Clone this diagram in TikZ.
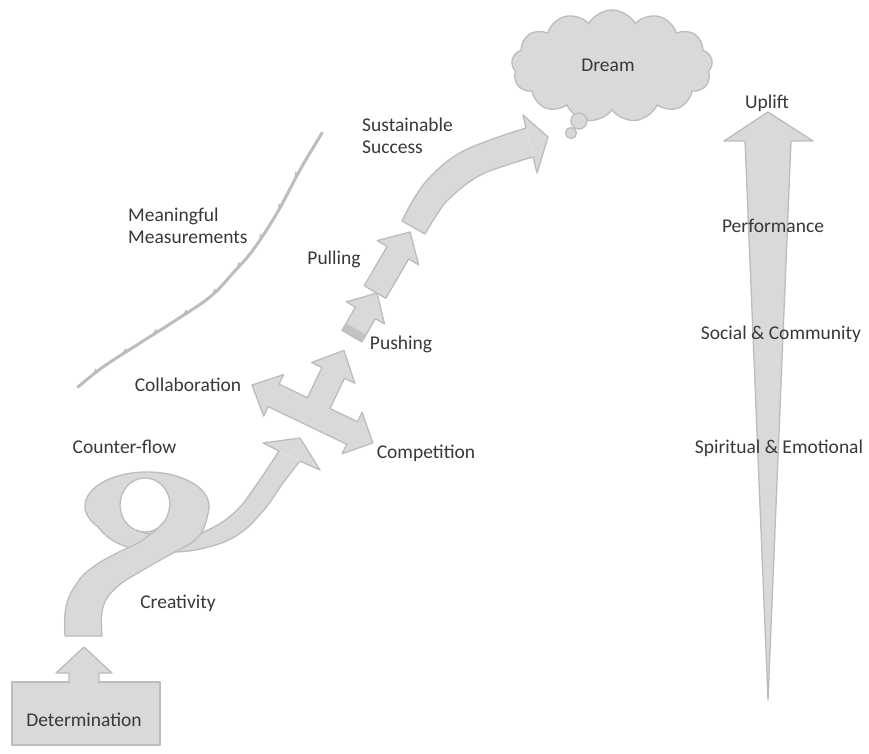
\documentclass[tikz,border=0pt]{standalone}
\usepackage{fontspec}
\setmainfont{Carlito}
\usetikzlibrary{calc,shapes.symbols,decorations.markings}
\definecolor{fillc}{HTML}{D9D9D9}
\definecolor{edgec}{HTML}{BCBCBC}
\definecolor{textc}{HTML}{383838}
\definecolor{linec}{HTML}{BDBDBD}
\newcommand{\arrowpts}[5]{%
  \path ($(#2)!#5!(#1)$) coordinate (ba-h);
  \path ($(#1)!#3!90:(#2)$) coordinate (ba-t1)
        ($(ba-h)!#3!90:(#2)$) coordinate (ba-h1)
        ($(ba-h)!#4!90:(#2)$) coordinate (ba-w1)
        ($(ba-h)!#4!-90:(#2)$) coordinate (ba-w2)
        ($(ba-h)!#3!-90:(#2)$) coordinate (ba-h2)
        ($(#1)!#3!-90:(#2)$) coordinate (ba-t2);
}
\begin{document}
\begin{tikzpicture}[x=1pt,y=-1pt,
  lbl/.style={text=textc, font=\fontsize{19.5}{22}\selectfont, inner sep=0pt, text height=12.5pt, text depth=0pt},
  mlbl/.style={text=textc, font=\fontsize{19.5}{22}\selectfont, inner sep=0pt, align=left, anchor=base west},
  shapefill/.style={fill=fillc},
  shapeline/.style={draw=edgec, line width=1.3pt, line join=round},
  measure/.style={draw=linec, line width=3pt, line cap=round},
]
\useasboundingbox[fill=white] (0,0) rectangle (869,754);

% ---------- Determination box and its arrow ----------
\node[shapefill, shapeline, minimum width=148pt, minimum height=63pt, inner sep=0pt] (det) at (86,713.5) {};
\coordinate (det-tail) at (84,684);
\coordinate (det-tip) at (84,647);
\arrowpts{det-tail}{det-tip}{15pt}{28pt}{26pt}
\fill[fillc] (ba-t1) -- (ba-h1) -- (ba-w1) -- (det-tip) -- (ba-w2) -- (ba-h2) -- (ba-t2) -- cycle;
\draw[shapeline] (ba-t1) -- (ba-h1) -- (ba-w1) -- (det-tip) -- (ba-w2) -- (ba-h2) -- (ba-t2);

% ---------- Counter-flow loop ----------
\fill[fillc, even odd rule] (147,506) ellipse [x radius=62pt, y radius=34pt] (145,505) ellipse [x radius=25pt, y radius=27pt];
\draw[shapeline] (147,506) ellipse [x radius=62pt, y radius=34pt];
\draw[shapeline] (145,505) ellipse [x radius=25pt, y radius=27pt];
% outgoing ribbon
\fill[fillc] (263,443) -- (300,438) -- (320,470) -- cycle;
\fill[fillc] plot[smooth, tension=0.7] coordinates {(136,530) (155,535) (185,536) (210,529) (236,511) (257,484) (279,451)}
  -- plot[smooth, tension=0.7] coordinates {(300,461) (283,483) (263,511) (236,536) (200,549) (165,552) (135,549) (112,540) (98,527)} -- cycle;
\draw[shapeline] plot[smooth, tension=0.7] coordinates {(136,530) (155,535) (185,536) (210,529) (236,511) (257,484) (279,451)};
\draw[shapeline] plot[smooth, tension=0.7] coordinates {(300,461) (283,483) (263,511) (236,536) (200,549) (165,552) (135,549) (112,540) (98,527)};
\draw[shapeline] (279,451) -- (263,443) -- (300,438) -- (320,470) -- (300,461);
% rising ribbon
\fill[fillc] plot[smooth, tension=0.7] coordinates {(170,505) (167,517) (161,525) (152,533) (138,543) (117,553) (93,567) (77,583) (66,607) (65,636)}
  -- plot[smooth, tension=0.7] coordinates {(102,636) (103,607) (117,587) (143,570) (173,553) (195,540) (205,525) (209,506)} -- cycle;
\draw[shapeline] plot[smooth, tension=0.7] coordinates {(170,505) (167,517) (161,525) (152,533) (138,543) (117,553) (93,567) (77,583) (66,607) (65,636)}
  -- plot[smooth, tension=0.7] coordinates {(102,636) (103,607) (117,587) (143,570) (173,553) (195,540) (205,525) (209,506)};

% ---------- Collaboration / Competition cross ----------
\begin{scope}[shift={(252pt,-385pt)}, x={(0.9017pt,-0.4322pt)}, y={(0.4322pt,0.9017pt)}]
\filldraw[shapefill, shapeline] (0,0) -- (24,23) -- (24,12.5) -- (55.5,12.5) -- (55.5,46) -- (44,46) -- (68,71) -- (92,46) -- (80.5,46) -- (80.5,12.5) -- (111,12.5) -- (111,23) -- (134,0) -- (111,-23) -- (111,-12.5) -- (24,-12.5) -- (24,-23) -- cycle;
\end{scope}

% ---------- Pushing / Pulling arrows ----------
\coordinate (push-tail) at (352,336);
\coordinate (push-tip) at (377,293);
\arrowpts{push-tail}{push-tip}{11.5pt}{22pt}{23pt}
\filldraw[shapefill, shapeline] (ba-t1) -- (ba-h1) -- (ba-w1) -- (push-tip) -- (ba-w2) -- (ba-h2) -- (ba-t2) -- cycle;
\fill[edgec!80!fillc] (ba-t1) -- ($(ba-t1)!0.3!(ba-h1)$) -- ($(ba-t2)!0.3!(ba-h2)$) -- (ba-t2) -- cycle;
\draw[shapeline] (ba-t1) -- (ba-t2);
\coordinate (pull-tail) at (375,292);
\coordinate (pull-tip) at (410,232);
\arrowpts{pull-tail}{pull-tip}{12.5pt}{24pt}{24pt}
\filldraw[shapefill, shapeline] (ba-t1) -- (ba-h1) -- (ba-w1) -- (pull-tip) -- (ba-w2) -- (ba-h2) -- (ba-t2) -- cycle;

% ---------- Sustainable success curved arrow ----------
\fill[fillc] (523,115) -- (548,137) -- (537,173) -- cycle;
\fill[fillc] plot[smooth, tension=0.7] coordinates {(402,221) (415,197) (432,175) (458,154) (490,140) (526,128)}
  -- plot[smooth, tension=0.7] coordinates {(533,157) (507,165) (477,177) (449,199) (436,216) (425,234)} -- cycle;
\draw[shapeline] plot[smooth, tension=0.7] coordinates {(526,128) (490,140) (458,154) (432,175) (415,197) (402,221)}
  -- plot[smooth, tension=0.7] coordinates {(425,234) (436,216) (449,199) (477,177) (507,165) (533,157)};
\draw[shapeline] (526,128) -- (523,115) -- (548,137) -- (537,173) -- (533,157);

% ---------- Dream cloud ----------
\node[cloud, cloud puffs=13, cloud puff arc=120, aspect=1.8, shapefill, shapeline, minimum width=201pt, minimum height=112pt, inner sep=0pt] (dream) at (612,66) {};
\node[circle, shapefill, shapeline, minimum size=16pt, inner sep=0pt] (bub1) at (579,121) {};
\node[circle, shapefill, shapeline, minimum size=11pt, inner sep=0pt] (bub2) at (571,133) {};

% ---------- Meaningful measurements line ----------
\draw[measure, postaction={decorate}, decoration={markings,
   mark=between positions 0.07 and 0.95 step 0.1 with {\fill[linec] (0pt,0pt) -- (-7pt,0pt) -- (0pt,3.5pt) -- cycle;}}]
  plot[smooth, tension=0.6] coordinates {(78,387) (103,367) (140,343) (173,322) (210,297) (233,273) (253,250) (277,213) (300,170) (322,133)};

% ---------- Uplift arrow ----------
\coordinate (up-tip) at (768,112);
\coordinate (up-end) at (768,700);
\filldraw[shapefill, shapeline] (up-tip) -- (813,141) -- (791,141) -- (up-end) -- (745,141) -- (724,141) -- cycle;

% ---------- Labels ----------
\node[lbl] (t-dream) at (608,65) {Dream};
\node[lbl] (t-uplift) at (767,102) {Uplift};
\node[mlbl] (t-ss) at (362,154) {Sustainable\\Success};
\node[mlbl] (t-mm) at (128,243) {Meaningful\\Measurements};
\node[lbl] (t-pull) at (334,258) {Pulling};
\node[lbl] (t-push) at (401,343) {Pushing};
\node[lbl] (t-coll) at (188,385) {Collaboration};
\node[lbl] (t-comp) at (426,452) {Competition};
\node[lbl] (t-cf) at (124.5,447) {Counter-flow};
\node[lbl] (t-cre) at (178,602) {Creativity};
\node[lbl] (t-det) at (84,720) {Determination};
\node[lbl] (t-perf) at (773,226) {Performance};
\node[lbl] (t-soc) at (781,333) {Social \& Community};
\node[lbl] (t-spi) at (779,447) {Spiritual \& Emotional};
\end{tikzpicture}
\end{document}
